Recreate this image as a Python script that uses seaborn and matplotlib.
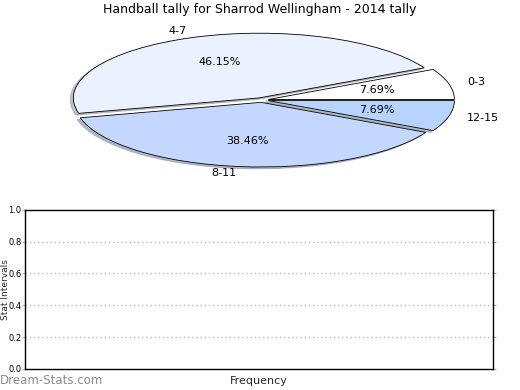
import matplotlib
matplotlib.use("Agg")
import matplotlib.pyplot as plt
import seaborn as sns

title = "Handball tally for Sharrod Wellingham - 2014 tally"
intervals = ["0-3", "4-7", "8-11", "12-15"]
counts = [1, 6, 5, 1]
slice_colors = ["#FFFFFF", "#EBF1FF", "#C4D8FF", "#B6D4FF"]
y_ticks = [0.0, 0.2, 0.4, 0.6, 0.8, 1.0]

sns.set_style("white")
plt.rcParams["font.family"] = ["DejaVu Sans"]
plt.rcParams["text.color"] = "black"
plt.rcParams["ytick.labelcolor"] = "black"

fig = plt.figure(figsize=(5.2, 3.9), dpi=100)

# pie on top, squashed into an ellipse
ax_pie = fig.add_axes([0.047, 0.532, 0.913, 0.423])
ax_pie.pie(counts, labels=intervals, colors=slice_colors, autopct="%.2f%%",
           explode=[0.035] * len(counts), radius=0.98, startangle=0,
           shadow={"ox": -0.012, "oy": -0.02, "shade": 0.45},
           wedgeprops={"edgecolor": "black", "linewidth": 0.6},
           textprops={"fontsize": 8, "color": "black"})
ax_pie.set_aspect("auto")
ax_pie.set_xlim(-1.25, 1.25)
ax_pie.set_ylim(-1.25, 1.25)
ax_pie.axis("off")

fig.text(0.5, 0.975, title, ha="center", va="center", fontsize=9)

# empty frequency panel below
ax = fig.add_axes([0.048, 0.054, 0.9, 0.408])
ax.set_ylim(0, 1)
ax.set_xlim(0, 1)
ax.set_xticks([])
ax.set_yticks(y_ticks)
ax.set_yticklabels([f"{v:.1f}" for v in y_ticks], fontsize=6)
ax.tick_params(axis="y", which="both", left=True, right=True, length=2,
               color="#AAAAAA", pad=0.5)
for v in y_ticks[1:-1]:
    ax.axhline(v, color="#BBBBBB", linestyle=(0, (1, 2)), linewidth=1)
for sp in ax.spines.values():
    sp.set_color("black")
    sp.set_linewidth(1)
ax.set_ylabel("Stat Intervals", fontsize=6.5, labelpad=2)
ax.yaxis.set_label_coords(-0.033, 0.5)
ax.set_xlabel("Frequency", fontsize=8, labelpad=2)
ax.xaxis.set_label_coords(0.5, -0.045)

fig.text(0.0, 0.025, "Dream-Stats.com", ha="left", va="center", fontsize=8.5,
         color="#8C8C8C")

fig.savefig("out.png", dpi=100)
